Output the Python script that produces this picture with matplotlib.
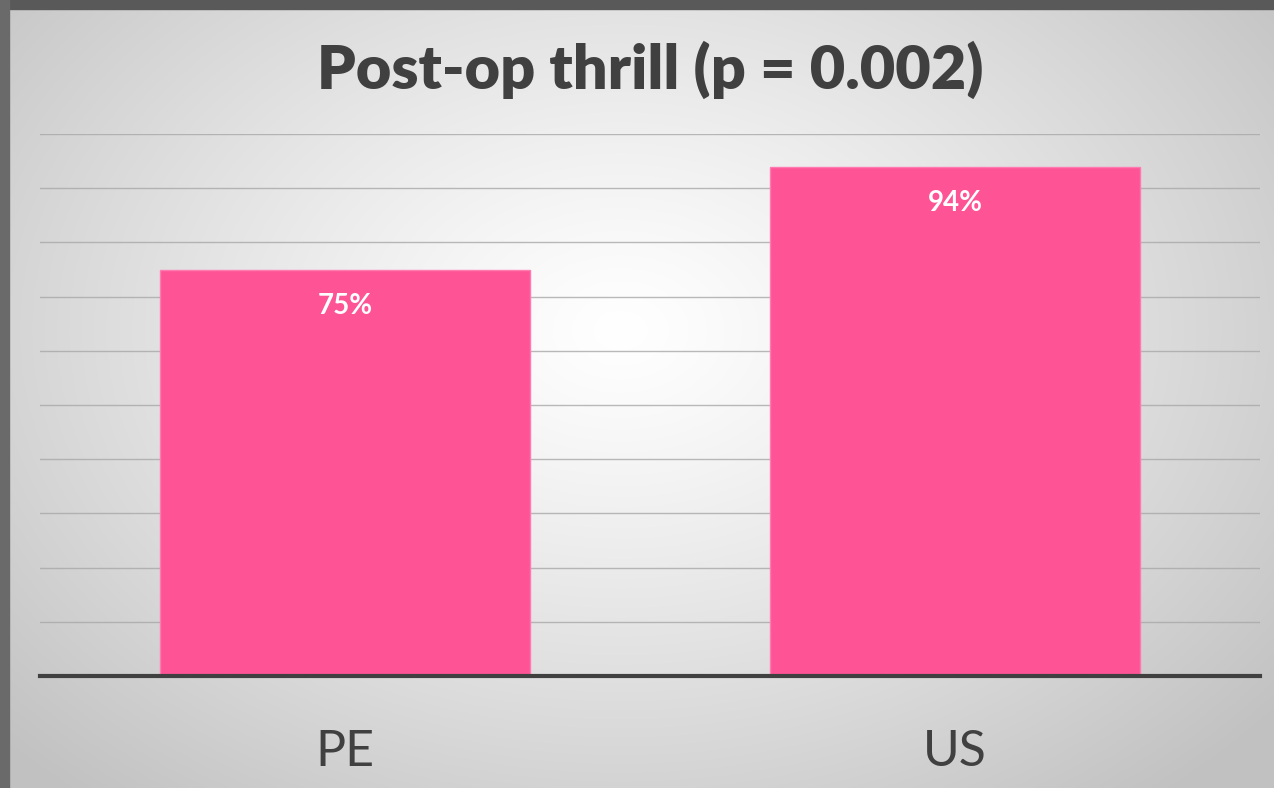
import numpy as np
import matplotlib.pyplot as plt
from matplotlib.patches import Rectangle

# data
categories = ['PE', 'US']
values = [0.75, 0.94]
labels = ['75%', '94%']
grid_ticks = np.arange(0.1, 1.01, 0.1)

W, H = 1274, 788
fig = plt.figure(figsize=(W / 100, H / 100), dpi=100)

# background: soft radial gradient
bg = fig.add_axes([0, 0, 1, 1], zorder=0)
yy, xx = np.mgrid[0:H, 0:W]
r = np.sqrt(((xx - 620) / 720) ** 2 + ((yy - 330) / 520) ** 2)
shade = np.clip(1.0 - 0.2 * np.clip(r, 0, 1.4) ** 1.2, 0.76, 1.0)
bg.imshow(np.dstack([shade] * 3), extent=[0, W, H, 0], aspect='auto')
bg.add_patch(Rectangle((0, 0), W, 9, color='#595959'))
bg.add_patch(Rectangle((0, 0), 9, H, color='#6a6a6a'))
bg.set_xlim(0, W)
bg.set_ylim(H, 0)
bg.axis('off')

# chart area
ax = fig.add_axes([40 / W, (H - 676) / H, 1220 / W, 542 / H], zorder=1)
ax.patch.set_alpha(0)
x = np.arange(len(categories))
ax.bar(x, values, width=0.605, color='#fe5496', edgecolor='#ff7ab0',
       linewidth=1.0, zorder=2)
for t in grid_ticks:
    ax.axhline(t, color='#a8a8a8', linewidth=1.0, alpha=0.8, zorder=1)
ax.axhline(0, color='#404040', linewidth=3.0, zorder=3, clip_on=False)

for xi, v, lab in zip(x, values, labels):
    ax.annotate(lab, (xi, v), xytext=(0, -26), textcoords='offset points',
                ha='center', va='center', color='white', fontsize=20,
                fontweight='bold', family='Lato', zorder=4)

ax.set_xlim(-0.5, 1.5)
ax.set_ylim(0, 1.0)
ax.set_xticks(x)
ax.set_xticklabels(categories, fontsize=36, color='#404040', family='Lato')
ax.tick_params(axis='x', length=0, pad=38)
ax.set_yticks([])
for s in ax.spines.values():
    s.set_visible(False)

fig.text(650 / W, 1 - 70 / H, 'Post-op thrill (p = 0.002)', ha='center',
         va='center', fontsize=44, fontweight='heavy', color='#404040',
         family='Lato')

fig.savefig('out.png', dpi=100)
